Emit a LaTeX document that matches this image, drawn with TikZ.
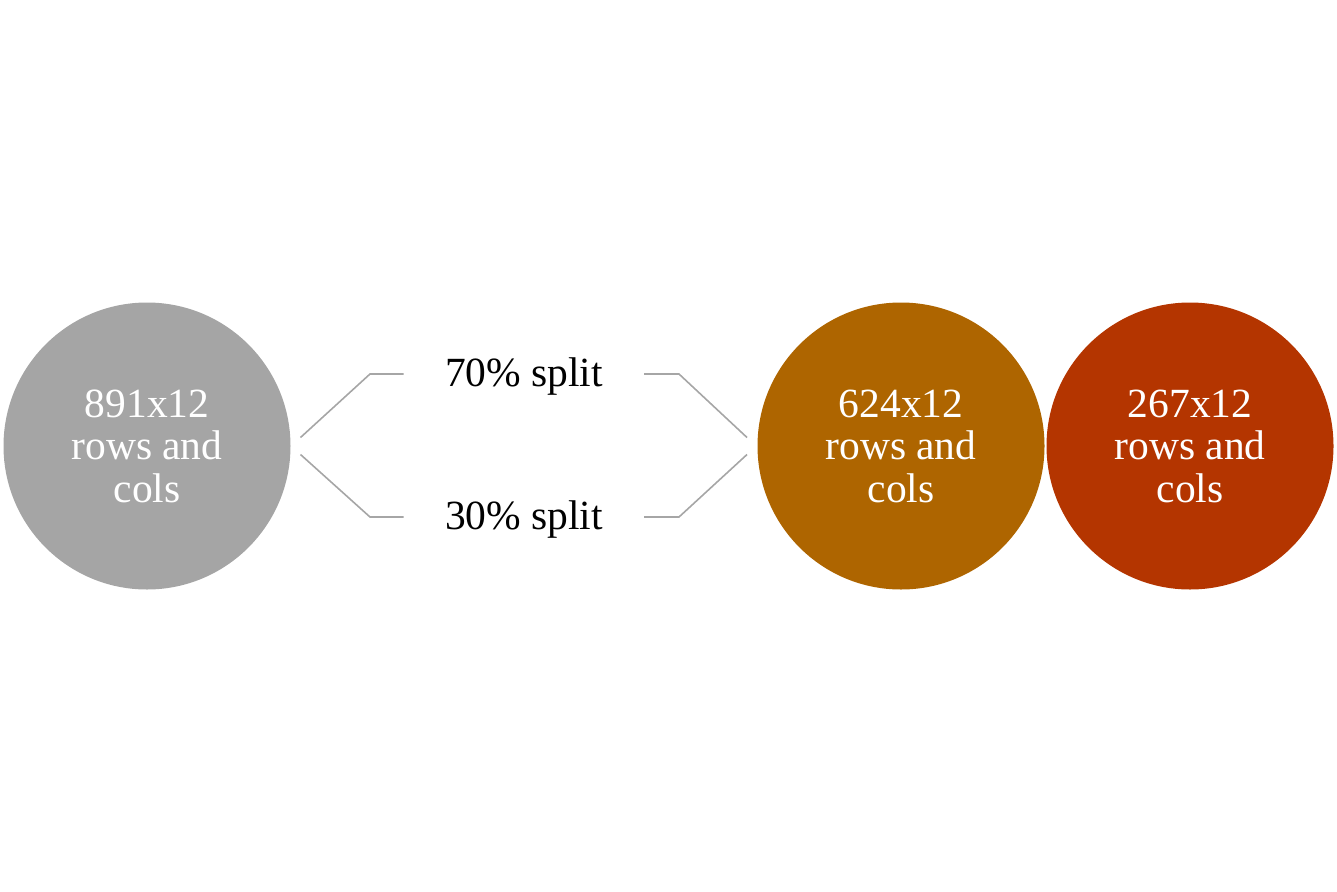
\documentclass[tikz,border=0pt]{standalone}
\usepackage{fontspec}
\setmainfont{Liberation Serif}
\definecolor{cgray}{HTML}{A5A5A5}
\definecolor{corange}{HTML}{AE6500}
\definecolor{cred}{HTML}{B43500}
\definecolor{clinegray}{HTML}{A6A6A6}
\begin{document}
\begin{tikzpicture}[x=1pt,y=-1pt,
  ball/.style={circle,minimum size=287pt,inner sep=0pt,text=white,align=center,font=\fontsize{41.5}{42.5}\selectfont},
  lbl/.style={inner sep=0pt,font=\fontsize{41.5}{43}\selectfont,text=black},
  conn/.style={draw=clinegray,line width=1.6pt}]
\useasboundingbox (0,0) rectangle (1337,891);
\node[ball,fill=cgray] (a) at (147,446) {891x12\\rows and\\cols};
\node[ball,fill=corange] (b) at (901,446) {624x12\\rows and\\cols};
\node[ball,fill=cred] (c) at (1190,446) {267x12\\rows and\\cols};
\node[lbl] (t) at (524,377) {70\% split};
\node[lbl] (s) at (524,520) {30\% split};
\coordinate (l1) at (300.5,437.5);
\coordinate (l2) at (300.5,454.5);
\coordinate (r1) at (747,437.5);
\coordinate (r2) at (747,454.5);
\draw[conn] (l1) -- (370,374) -- (403.5,374);
\draw[conn] (l2) -- (370,517) -- (403.5,517);
\draw[conn] (644,374) -- (679,374) -- (r1);
\draw[conn] (644,517) -- (679,517) -- (r2);
\end{tikzpicture}
\end{document}
